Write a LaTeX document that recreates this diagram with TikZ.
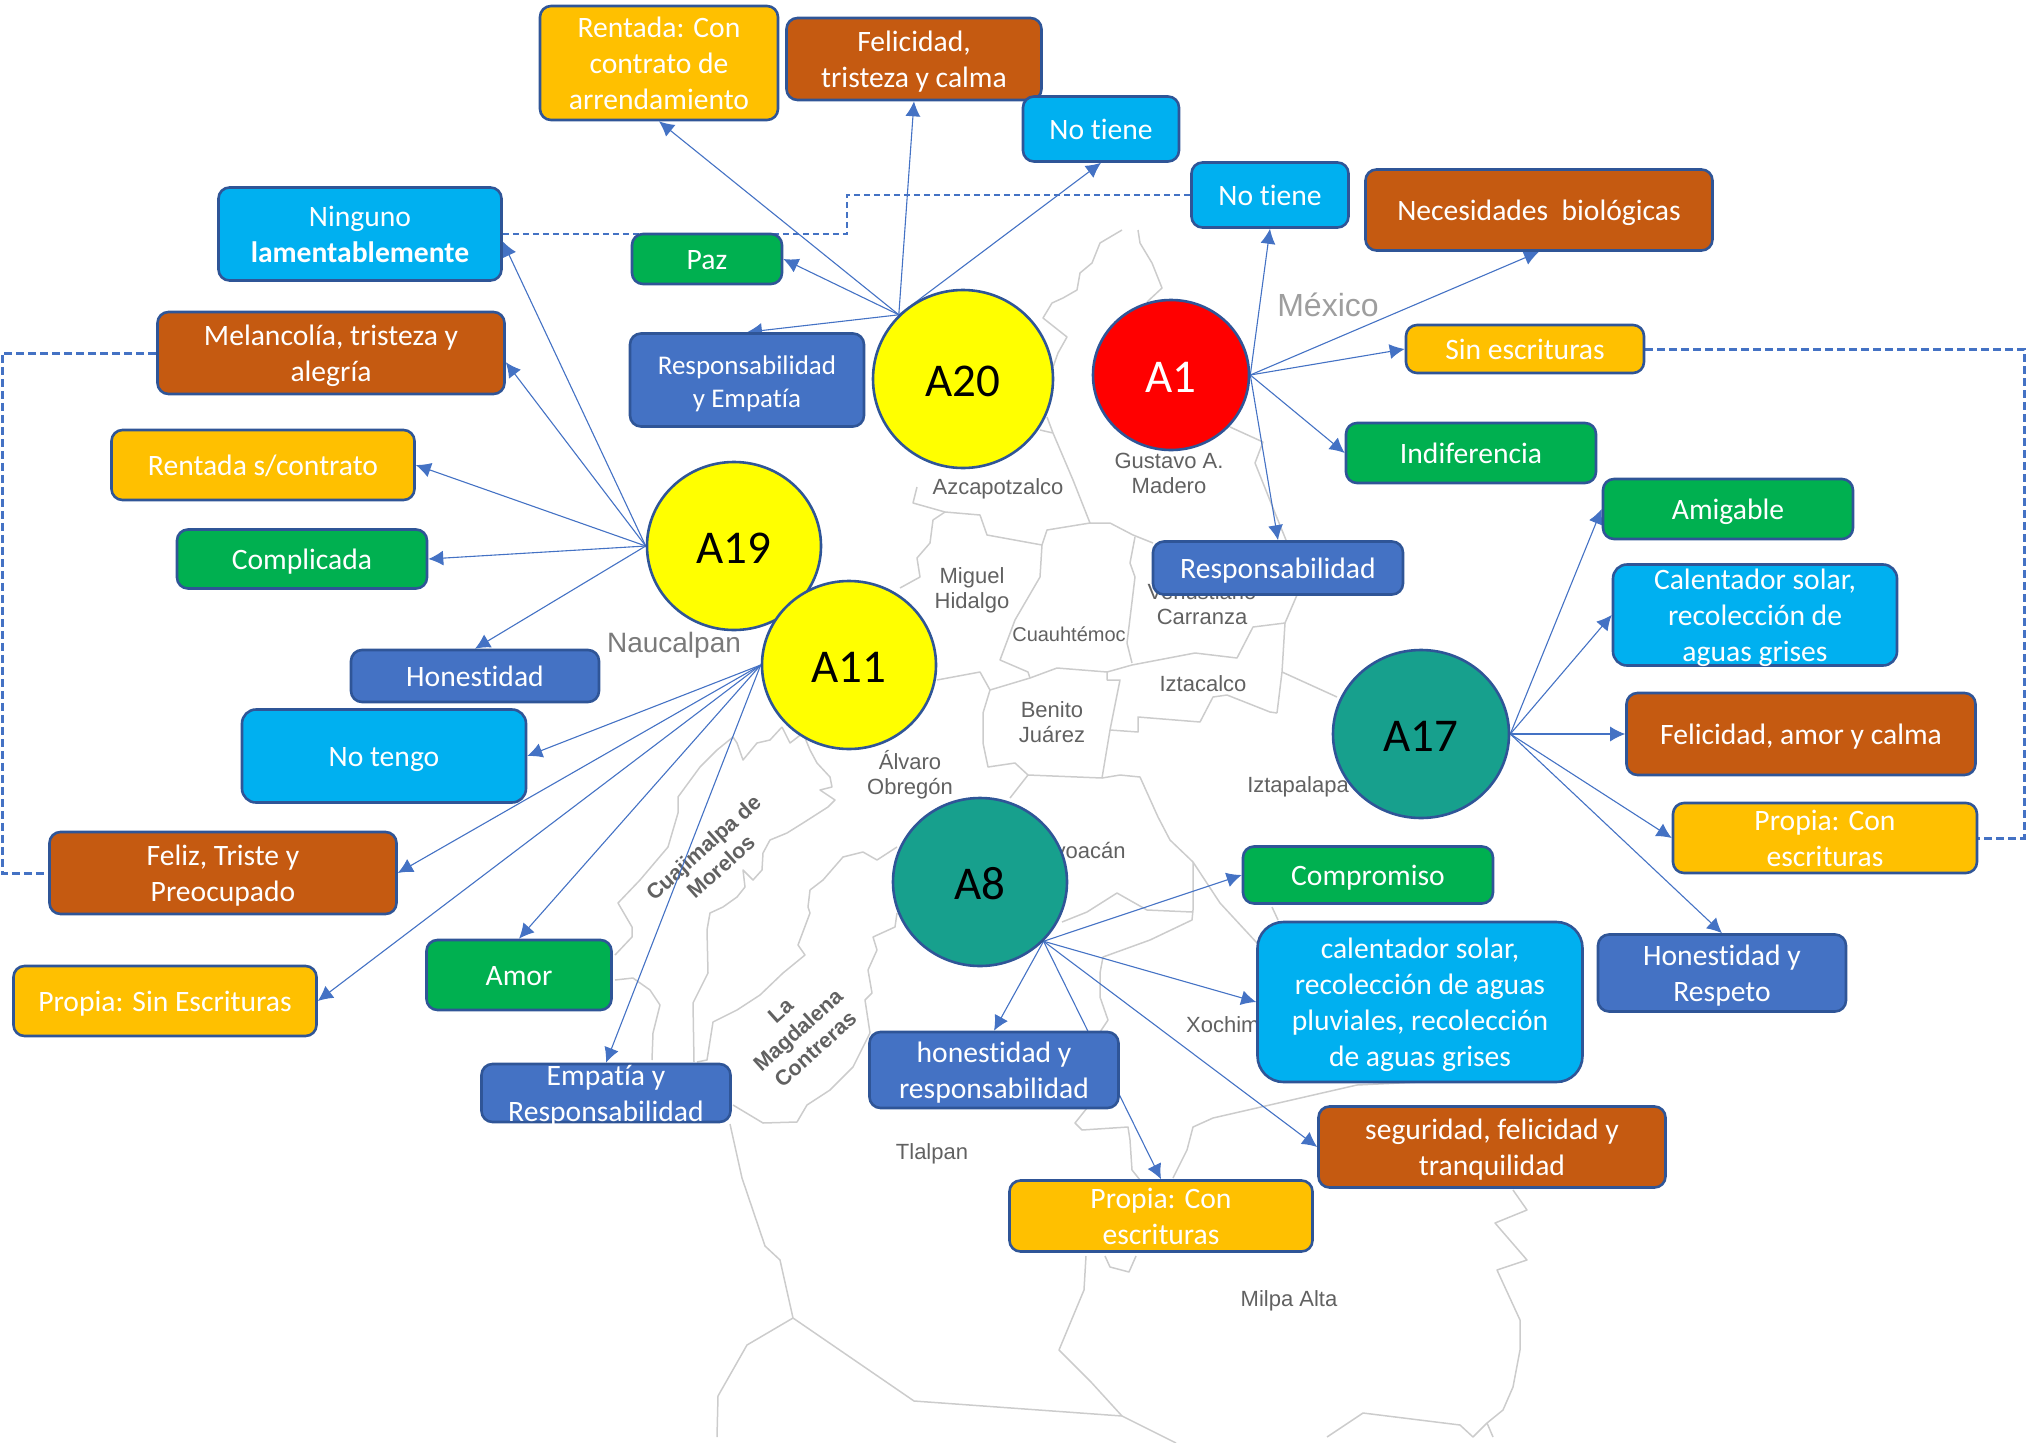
\documentclass[tikz,border=0pt]{standalone}
\usepackage{xcolor}
\usepackage{fontspec}
\setmainfont[Ligatures=NoCommon]{Carlito}
\newfontfamily\mapfont{Liberation Sans}
\usetikzlibrary{arrows.meta,backgrounds,shapes.geometric}
\definecolor{bdcol}{HTML}{2F5597}
\definecolor{lncol}{HTML}{4472C4}
\definecolor{bluecol}{HTML}{4472C4}
\definecolor{skycol}{HTML}{00B0F0}
\definecolor{browncol}{HTML}{C55A11}
\definecolor{greencol}{HTML}{00B050}
\definecolor{ambercol}{HTML}{FFC000}
\definecolor{tealcol}{HTML}{17A08D}
\definecolor{yelcol}{HTML}{FFFF00}
\definecolor{redcol}{HTML}{FF0000}
\begin{document}
\begin{tikzpicture}[
    x=1pt, y=-1pt,
    ent/.style={draw=bdcol, rounded corners=11pt, line width=2.6pt, align=center, text=white, inner sep=0pt, font=\fontsize{29.6}{36}\selectfont, execute at begin node={\rule{0pt}{27pt}}, execute at end node={\rule[-6pt]{0pt}{6pt}}},
    mul/.style={inner ysep=-9pt, execute at begin node={\rule{0pt}{#1pt}}},
    blu/.style={ent, fill=bluecol},
    sky/.style={ent, fill=skycol},
    brn/.style={ent, fill=browncol},
    grn/.style={ent, fill=greencol},
    amb/.style={ent, fill=ambercol},
    hub/.style={ellipse, draw=bdcol, line width=2.6pt, inner sep=0pt, font=\fontsize{47}{50}\selectfont, execute at begin node={\rule[-11pt]{0pt}{56pt}}},
    rel/.style={-{Latex[length=15pt,width=15pt]}, draw=lncol, line width=1.1pt},
    lnk/.style={draw=lncol, line width=3pt, dash pattern=on 8pt off 4pt},
    map/.style={draw=black!20, line width=1.5pt, line join=round},
    lbl/.style={text=black!62, align=center, inner sep=0pt, font=\mapfont\fontsize{22}{25}\selectfont},
    rot/.style={lbl, rotate=42, text=black!62, font=\mapfont\bfseries\fontsize{21.5}{26}\selectfont}
  ]
    \useasboundingbox (0,0) rectangle (2030,1443);

    \begin{scope}[on background layer]
      \draw[map] (1122,230) -- (1100,243) -- (1092,263) -- (1080,273) -- (1077,290) -- (1063,298) -- (1052,303) -- (1043,318) -- (1067,337) -- (1058,353) -- (1053,367);
      \draw[map] (1138,230) -- (1140,243) -- (1152,263) -- (1162,288) -- (1147,302);
      \draw[map] (1040,430) -- (1053,433) -- (1047,417);
      \draw[map] (1053,433) -- (1073,480) -- (1090,523) -- (1110,523) -- (1133,535) -- (1153,543);
      \draw[map] (917,487) -- (913,503) -- (945,512) -- (980,515) -- (987,535) -- (1042,545) -- (1047,530) -- (1090,523);
      \draw[map] (1230,427) -- (1263,442) -- (1255,463) -- (1275,513) -- (1286,540);
      \draw[map] (945,512) -- (933,520) -- (930,543) -- (917,558) -- (920,577) -- (900,588);
      \draw[map] (1042,545) -- (1040,577) -- (1015,620) -- (1000,660) -- (1028,672) -- (1030,678);
      \draw[map] (1135,537) -- (1130,563) -- (1135,577) -- (1127,643) -- (1132,663);
      \draw[map] (937,680) -- (980,672) -- (990,690) -- (1030,678) -- (1057,668) -- (1107,672) -- (1132,665) -- (1195,653) -- (1237,658) -- (1253,627) -- (1285,623) -- (1297,595);
      \draw[map] (1285,623) -- (1282,672) -- (1277,713);
      \draw[map] (1282,672) -- (1337,697);
      \draw[map] (1107,672) -- (1107,680) -- (1120,680) -- (1110,730) -- (1138,732) -- (1138,717) -- (1200,722) -- (1213,697) -- (1227,695) -- (1270,712) -- (1277,713);
      \draw[map] (990,690) -- (983,713) -- (983,743) -- (988,767) -- (1015,763) -- (1028,775) -- (1102,778) -- (1110,730);
      \draw[map] (1028,775) -- (1010,798);
      \draw[map] (1102,778) -- (1120,775) -- (1140,777) -- (1158,817) -- (1170,840) -- (1193,862) -- (1220,903) -- (1257,943);
      \draw[map] (1193,862) -- (1193,910) -- (1192,920) -- (1150,940) -- (1103,957) -- (1100,973) -- (1100,997) -- (1108,1020) -- (1100,1032);
      \draw[map] (1062,922) -- (1087,912) -- (1117,893) -- (1147,910) -- (1192,912);
      \draw[map] (1272,907) -- (1278,920);
      \draw[map] (1087,1108) -- (1075,1123) -- (1082,1130) -- (1128,1127) -- (1130,1140) -- (1132,1170) -- (1140,1180);
      \draw[map] (1173,1178) -- (1187,1150) -- (1193,1127) -- (1213,1118) -- (1357,1085) -- (1420,1082);
      \draw[map] (730,1124) -- (742,1178) -- (765,1246) -- (780,1260) -- (793,1318) -- (747,1345) -- (718,1396) -- (717,1437);
      \draw[map] (793,1318) -- (914,1401) -- (1122,1416) -- (1176,1443);
      \draw[map] (1086,1256) -- (1084,1290) -- (1059,1350) -- (1091,1382) -- (1122,1416);
      \draw[map] (1105,1256) -- (1110,1267) -- (1129,1272) -- (1136,1256);
      \draw[map] (1513,1190) -- (1527,1210) -- (1495,1223) -- (1527,1260) -- (1497,1270) -- (1520,1320) -- (1520,1350) -- (1513,1387) -- (1503,1410) -- (1487,1423) -- (1473,1437);
      \draw[map] (1487,1423) -- (1493,1437);
      \draw[map] (1327,1437) -- (1363,1413) -- (1460,1425) -- (1473,1437);
      \draw[map] (782,727) -- (770,740) -- (757,743) -- (743,760) -- (737,743) -- (733,737) -- (717,750) -- (700,767) -- (678,797) -- (678,813) -- (668,847) -- (640,880) -- (618,903) -- (632,927) -- (632,937) -- (615,955);
      \draw[map] (782,727) -- (790,743) -- (803,733) -- (810,750) -- (817,763) -- (830,777) -- (832,787) -- (820,790) -- (835,800) -- (828,807) -- (803,823) -- (787,833) -- (770,840) -- (763,853) -- (762,870) -- (753,880) -- (743,870) -- (745,887) -- (737,897) -- (723,907) -- (710,913) -- (707,930) -- (708,973) -- (693,1003) -- (694,1062);
      \draw[map] (897,847) -- (877,860) -- (863,852) -- (843,857) -- (823,880) -- (810,890) -- (808,907) -- (810,913) -- (798,945) -- (805,955) -- (783,973) -- (760,995) -- (737,1010) -- (713,1022) -- (707,1060) -- (697,1062);
      \draw[map] (897,913) -- (895,927) -- (873,937) -- (877,950) -- (868,970) -- (872,993) -- (865,1000) -- (870,1033) -- (853,1067) -- (830,1090) -- (807,1105) -- (797,1122) -- (763,1123) -- (733,1105);
      \draw[map] (615,980) -- (633,978) -- (650,990) -- (660,1005) -- (653,1033) -- (652,1060);

      \node[lbl, font=\mapfont\fontsize{32}{36}\selectfont, text=black!38] (mex) at (1328,305) {México};
      \node[lbl, font=\mapfont\fontsize{28}{32}\selectfont, text=black!52] (nau) at (674,645) {Naucalpan};
      \node[lbl] (azc) at (998,489) {Azcapotzalco};
      \node[lbl] (gam) at (1169,473) {Gustavo A.\\Madero};
      \node[lbl] (mig) at (972,590) {Miguel\\Hidalgo};
      \node[lbl, font=\mapfont\fontsize{20}{24}\selectfont] (cua) at (1069,634) {Cuauhtémoc};
      \node[lbl] (ven) at (1202,604) {Venustiano\\Carranza};
      \node[lbl] (izc) at (1203,684) {Iztacalco};
      \node[lbl] (ben) at (1052,722) {Benito\\Juárez};
      \node[lbl] (alv) at (910,775) {Álvaro\\Obregón};
      \node[lbl] (izp) at (1298,787) {Iztapalapa};
      \node[lbl] (coy) at (1076,853) {Coyoacán};
      \node[lbl, anchor=west] (xoc) at (1186,1025) {Xochimilco};
      \node[lbl] (tla) at (932,1154) {Tlalpan};
      \node[lbl] (mil) at (1289,1301) {Milpa Alta};
      \node[rot] (cuj) at (712,857) {Cuajimalpa de\\Morelos};
      \node[rot] (mag) at (798,1030) {La\\Magdalena\\Contreras};
    \end{scope}

    \node[amb, mul=99, minimum width=238pt, minimum height=114pt] (rcon) at (659,63) {Rentada: Con\\contrato de\\arrendamiento};
    \node[brn, mul=63, minimum width=255pt, minimum height=82pt] (felt) at (914,59) {Felicidad,\\tristeza y calma};
    \node[sky, minimum width=156pt, minimum height=65pt] (not1) at (1101,129) {No tiene};
    \node[sky, minimum width=157pt, minimum height=65pt] (not2) at (1270,195) {No tiene};
    \node[brn, minimum width=347pt, minimum height=81pt] (nece) at (1539,210) {Necesidades\ \ biológicas};
    \node[sky, mul=63, minimum width=283pt, minimum height=93pt] (ning) at (360,234) {Ninguno\\\textbf{lamentablemente}};
    \node[grn, minimum width=150pt, minimum height=50pt] (paz) at (707,259) {Paz};
    \node[blu, mul=60, minimum width=234pt, minimum height=93pt, font=\fontsize{27}{33}\selectfont] (remp) at (747,380) {Responsabilidad\\y Empatía};
    \node[brn, mul=63, minimum width=347pt, minimum height=82pt] (mela) at (331,353) {Melancolía, tristeza y\\alegría};
    \node[amb, minimum width=303pt, minimum height=70pt] (rsin) at (263,465) {Rentada s/contrato};
    \node[grn, minimum width=250pt, minimum height=59pt] (comp) at (302,559) {Complicada};
    \node[blu, minimum width=248pt, minimum height=52pt] (hone) at (475,676) {Honestidad};
    \node[sky, minimum width=284pt, minimum height=93pt, rounded corners=14pt] (ntng) at (384,756) {No tengo};
    \node[brn, mul=63, minimum width=347pt, minimum height=82pt] (feli) at (223,873) {Feliz, Triste y\\Preocupado};
    \node[amb, minimum width=303pt, minimum height=70pt] (psin) at (165,1001) {Propia: Sin Escrituras};
    \node[grn, minimum width=185pt, minimum height=70pt] (amor) at (519,975) {Amor};
    \node[blu, mul=63, minimum width=249pt, minimum height=58pt] (empa) at (606,1093) {Empatía y\\Responsabilidad};
    \node[amb, minimum width=238pt, minimum height=48pt] (sesc) at (1525,349) {Sin escrituras};
    \node[grn, minimum width=250pt, minimum height=60pt] (indi) at (1471,453) {Indiferencia};
    \node[blu, minimum width=250pt, minimum height=53pt] (resp) at (1278,568) {Responsabilidad};
    \node[grn, minimum width=250pt, minimum height=60pt] (amig) at (1728,509) {Amigable};
    \node[sky, mul=99, minimum width=284pt, minimum height=101pt, rounded corners=14pt] (cal1) at (1755,615) {Calentador solar,\\recolección de\\aguas grises};
    \node[brn, minimum width=349pt, minimum height=82pt] (fela) at (1801,734) {Felicidad, amor y calma};
    \node[amb, mul=63, minimum width=304pt, minimum height=70pt] (pcon) at (1825,838) {Propia: Con\\escrituras};
    \node[blu, mul=63, minimum width=248pt, minimum height=77pt] (hres) at (1722,973) {Honestidad y\\Respeto};
    \node[grn, minimum width=250pt, minimum height=57pt] (comr) at (1368,875) {Compromiso};
    \node[sky, mul=135, minimum width=325pt, minimum height=160pt, rounded corners=26pt] (cal2) at (1420,1002) {calentador solar,\\recolección de aguas\\pluviales, recolección\\de aguas grises};
    \node[brn, mul=63, minimum width=347pt, minimum height=81pt] (segu) at (1492,1147) {seguridad, felicidad y\\tranquilidad};
    \node[amb, mul=63, minimum width=303pt, minimum height=71pt] (pbot) at (1161,1216) {Propia: Con\\escrituras};
    \node[blu, mul=63, minimum width=249pt, minimum height=76pt] (hrsp) at (994,1070) {honestidad y\\responsabilidad};

    \node[hub, fill=yelcol, minimum width=180pt, minimum height=178pt] (a20) at (963,379) {A20};
    \node[hub, fill=redcol, text=white, minimum width=156pt, minimum height=150pt] (a1) at (1171,375) {A1};
    \node[hub, fill=yelcol, minimum width=174pt, minimum height=168pt] (a19) at (734,546) {A19};
    \node[hub, fill=yelcol, minimum width=174pt, minimum height=168pt] (a11) at (849,665) {A11};
    \node[hub, fill=tealcol, minimum width=176pt, minimum height=168pt] (a17) at (1421,734) {A17};
    \node[hub, fill=tealcol, minimum width=174pt, minimum height=168pt] (a8) at (980,882) {A8};

    \begin{scope}[on background layer]
      \foreach \tgt/\anc in {rcon/south, felt/south, not1/south, paz/east, remp/north}
        \draw[rel] (a20.135) -- (\tgt.\anc);
      \foreach \tgt/\anc in {ning/-3, mela/-3, rsin/east, comp/east, hone/north}
        \draw[rel] (a19.west) -- (\tgt.\anc);
      \foreach \tgt/\anc in {ntng/east, feli/east, psin/east, amor/north, empa/north}
        \draw[rel] (a11.west) -- (\tgt.\anc);
      \foreach \tgt/\anc in {not2/south, nece/south, sesc/west, indi/west, resp/north}
        \draw[rel] (a1.east) -- (\tgt.\anc);
      \foreach \tgt/\anc in {amig/west, cal1/west, fela/west, pcon/west, hres/north}
        \draw[rel] (a17.east) -- (\tgt.\anc);
      \foreach \tgt/\anc in {comr/west, cal2/west, segu/west, hrsp/north, pbot/north}
        \draw[rel] (a8.-43) -- (\tgt.\anc);
      \draw[draw=lncol, line width=1.1pt, dash pattern=on 6pt off 4pt] (ning.east) -- (847,234) -- (847,195) -- (not2.west);
      \draw[lnk] (mela.west) -- (2,353) -- (2,873) -- (feli.west);
      \draw[lnk] (sesc.east) -- (2024,349) -- (2024,838) -- (pcon.east);
    \end{scope}
  \end{tikzpicture}
\end{document}
